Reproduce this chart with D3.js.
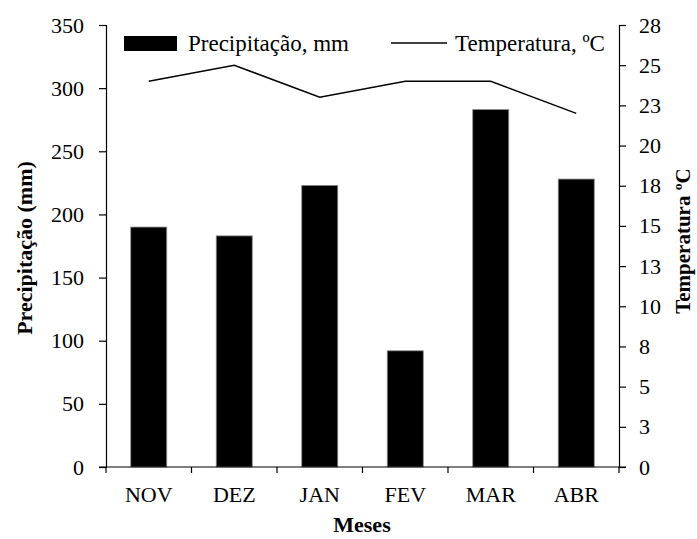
<!DOCTYPE html>
<html><head><meta charset="utf-8">
<script src="https://cdn.jsdelivr.net/npm/d3@7"></script>
<style>body{margin:0;background:#fff}svg{display:block}svg text{font-family:"Liberation Serif","Times New Roman",serif;fill:#000}</style>
</head><body>
<svg id="c" width="697" height="539"></svg>
<script>
const months = ["NOV","DEZ","JAN","FEV","MAR","ABR"];
const precipitation = [190, 183, 223, 92, 283, 228];
const temperature = [24, 25, 23, 24, 24, 22];
const precipTicks = [0,50,100,150,200,250,300,350];
const tempTicks = [0,2.5,5,7.5,10,12.5,15,17.5,20,22.5,25,27.5];

const FONT = "Liberation Serif, Times New Roman, serif";
const svg = d3.select("#c");
const L = 106, R = 619, T = 25, B = 467;
const xb = d3.scaleBand().domain(months).range([L, R]);
const y = d3.scaleLinear().domain([0, 350]).range([B, T]);
const y2 = d3.scaleLinear().domain([0, 27.5]).range([B, T]);

// bars
svg.append("g").selectAll("rect").data(months).join("rect")
  .attr("x", (d)=>xb(d) + xb.bandwidth()/2 - 18)
  .attr("width", 36)
  .attr("y", (d,i)=>y(precipitation[i]))
  .attr("height", (d,i)=>B - y(precipitation[i]))
  .attr("fill", "#000").attr("stroke", "#888").attr("stroke-width", 0.8);

// line
const line = d3.line().x((d,i)=>xb(months[i]) + xb.bandwidth()/2).y(d=>y2(d));
svg.append("path").datum(temperature).attr("d", line)
  .attr("fill","none").attr("stroke","#000").attr("stroke-width",1.5);

// left axis
const gl = svg.append("g").attr("transform", `translate(${L},0)`)
  .call(d3.axisLeft(y).tickValues(precipTicks).tickSize(7).tickSizeOuter(7).tickPadding(15));
// right axis
const gr = svg.append("g").attr("transform", `translate(${R},0)`)
  .call(d3.axisRight(y2).tickValues(tempTicks).tickFormat(d=>Math.round(d)).tickSize(7).tickSizeOuter(7).tickPadding(13));
// bottom axis
const gb = svg.append("g").attr("transform", `translate(0,${B})`)
  .call(d3.axisBottom(xb).tickSize(0).tickPadding(19));
gb.selectAll(".tick line").remove();
gb.select(".domain").attr("d", `M${L-7},0H${R+7}`);
svg.append("g").selectAll("line").data(months.concat(["end"])).join("line")
  .attr("x1",(d,i)=> i<months.length ? xb(d) : R).attr("x2",(d,i)=> i<months.length ? xb(d) : R)
  .attr("y1",B).attr("y2",B+6).attr("stroke","#000").attr("stroke-width",1.2);

[gl,gr,gb].forEach(g=>{
  g.attr("font-family", FONT).attr("font-size", 22);
  g.selectAll("text").attr("font-family", FONT).attr("font-size",22).attr("fill","#000");
  g.selectAll("line,path").attr("stroke","#000").attr("stroke-width",1.2);
});

// axis titles
svg.append("text").attr("transform","translate(32,248) rotate(-90)").attr("text-anchor","middle")
  .attr("font-family", FONT).attr("font-size",22).attr("font-weight","bold").text("Precipitação (mm)");
svg.append("text").attr("transform","translate(690,241) rotate(-90)").attr("text-anchor","middle")
  .attr("font-family", FONT).attr("font-size",21).attr("font-weight","bold").text("Temperatura ºC");
svg.append("text").attr("x",362).attr("y",532).attr("text-anchor","middle")
  .attr("font-family", FONT).attr("font-size",22).attr("font-weight","bold").text("Meses");

// legend
svg.append("rect").attr("x",124).attr("y",36).attr("width",53).attr("height",15).attr("fill","#000");
svg.append("text").attr("x",188).attr("y",51).attr("font-family", FONT).attr("font-size",23).text("Precipitação, mm");
svg.append("line").attr("x1",391).attr("x2",447).attr("y1",43).attr("y2",43).attr("stroke","#000").attr("stroke-width",1.5);
svg.append("text").attr("x",455).attr("y",51).attr("font-family", FONT).attr("font-size",23).text("Temperatura, ºC");
</script>
</body></html>
